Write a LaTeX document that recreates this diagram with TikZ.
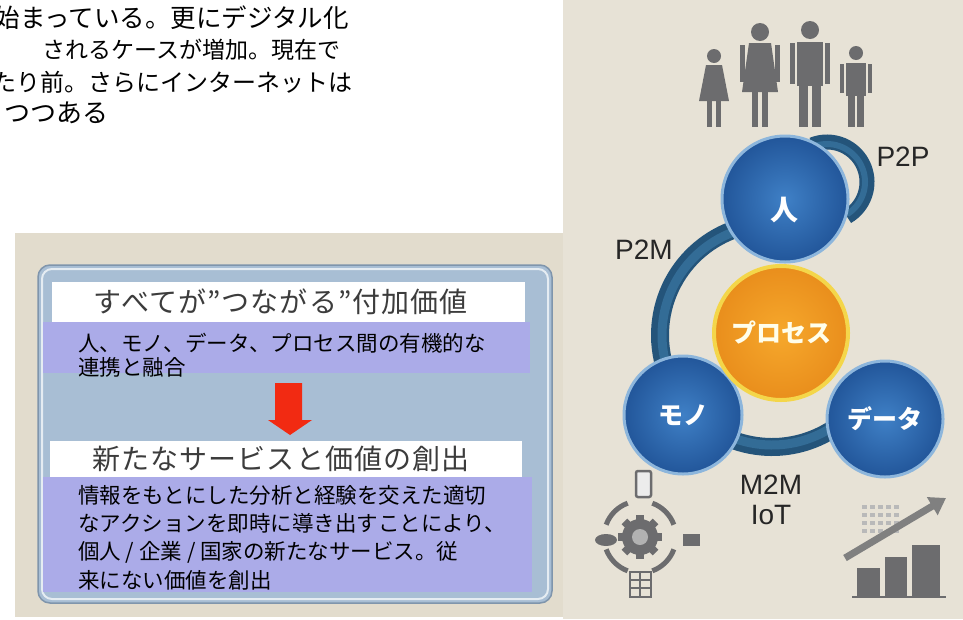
\documentclass[tikz,border=0pt]{standalone}
\usepackage{fontspec}
\setmainfont{Noto Sans CJK JP}
\newfontfamily\lat{Liberation Sans}
\usetikzlibrary{arrows.meta}
\definecolor{photobg}{HTML}{E7E2D6}
\definecolor{leftbg}{HTML}{E2DCCD}
\definecolor{panelfill}{HTML}{A8BED4}
\definecolor{panelrim}{HTML}{7F95AC}
\definecolor{lav}{HTML}{ABABE8}
\definecolor{ringdark}{HTML}{24547A}
\definecolor{ringmid}{HTML}{336C96}
\definecolor{blueIn}{HTML}{3F80C6}
\definecolor{blueOut}{HTML}{22569A}
\definecolor{blueHalo}{HTML}{8DB6DC}
\definecolor{orIn}{HTML}{F6A82C}
\definecolor{orOut}{HTML}{E98E1C}
\definecolor{orRim}{HTML}{F4D64A}
\definecolor{icongrey}{HTML}{6C6C6E}
\definecolor{titlegrey}{HTML}{3C3C3C}
\definecolor{arrowred}{HTML}{F22A12}
\begin{document}
\begin{tikzpicture}[x=1pt,y=-1pt,
  bodytext/.style={anchor=west,inner sep=0pt,font=\fontsize{25}{25}\selectfont},
  boxtext/.style={anchor=west,inner sep=0pt,font=\fontsize{21.5}{21.5}\selectfont},
  titletext/.style={inner sep=0pt,text=titlegrey,font=\fontsize{28}{28}\selectfont\addfontfeature{LetterSpace=4}},
  whitebar/.style={draw=none,fill=white,inner sep=0pt},
  lavbox/.style={draw=none,fill=lav,inner sep=0pt},
  bluecirc/.style={circle,inner sep=0pt,shading=radial,inner color=blueIn,outer color=blueOut,
    draw=blueHalo,line width=3pt,text=white,font=\fontsize{25}{25}\selectfont\bfseries},
  orangecirc/.style={circle,inner sep=0pt,shading=radial,inner color=orIn,outer color=orOut,
    draw=orRim,line width=4pt,text=white!92!yellow,font=\fontsize{25}{25}\selectfont\bfseries},
  linklabel/.style={inner sep=0pt,text=black!85,font=\lat\fontsize{28}{30}\selectfont},
  ringline/.style={draw=ringdark,line width=18pt},
  ringhi/.style={draw=ringmid,line width=9pt},
  figure/.style={fill=icongrey,draw=none},
]
\useasboundingbox (0,0) rectangle (963,619);
\fill[white] (0,0) rectangle (963,619);

% ---------- introductory text (clipped at the left margin) ----------
\begin{scope}
\clip (0,0) rectangle (560,230);
\node[bodytext,anchor=east,font=\fontsize{25.5}{25.5}\selectfont] (l1) at (349,18) {始まっている。更にデジタル化};
\node[bodytext,font=\fontsize{23}{23}\selectfont] (l2) at (42,50) {されるケースが増加。現在で};
\node[bodytext,font=\fontsize{24}{24}\selectfont] (l3) at (-8,82) {たり前。さらにインターネットは};
\node[bodytext,font=\fontsize{26}{26}\selectfont] (l4) at (4,113) {つつある};
\end{scope}

% ---------- left panel ----------
\fill[leftbg] (15,233) rectangle (563,617);
\draw[panelrim,fill=panelfill,line width=1.5pt,rounded corners=12pt] (38,265) rectangle (552,603);
\draw[white!70!panelfill,line width=2pt,rounded corners=10pt] (42,269) rectangle (548,599);

\node[whitebar,minimum width=473pt,minimum height=40pt] (bar1) at (288.5,302) {};
\node[lavbox,minimum width=487pt,minimum height=51pt] (box1) at (286.5,347.5) {};
\node[titletext] (title1) at (281,302) {すべてが”つながる”付加価値};
\node[boxtext] (b1a) at (78,343) {人、モノ、データ、プロセス間の有機的な};
\node[boxtext] (b1b) at (78,367) {連携と融合};

\fill[arrowred] (275,383) -- (302,383) -- (302,420) -- (312,420) -- (290,435)
  -- (268,420) -- (275,420) -- cycle;

\node[whitebar,minimum width=472pt,minimum height=36pt] (bar2) at (286,459) {};
\node[lavbox,minimum width=489pt,minimum height=115pt] (box2) at (287.5,534.5) {};
\node[titletext] (title2) at (281,459) {新たなサービスと価値の創出};
\node[boxtext] (b2a) at (78,495) {情報をもとにした分析と経験を交えた適切};
\node[boxtext] (b2b) at (78,523.5) {なアクションを即時に導き出すことにより、};
\node[boxtext] (b2c) at (78,552) {個人 / 企業 / 国家の新たなサービス。従};
\node[boxtext] (b2d) at (78,580.5) {来にない価値を創出};

% ---------- right panel ----------
\fill[photobg] (563,0) rectangle (963,619);

% family pictogram
% girl
\fill[figure] (714,56) circle[radius=7];
\fill[figure] (706,65) -- (722,65) -- (729,101) -- (699,101) -- cycle;
\fill[figure] (707,100) rectangle (712,127);
\fill[figure] (716,100) rectangle (721,127);
% woman
\fill[figure] (760,32) circle[radius=9];
\fill[figure] (749,43) -- (771,43) -- (778,92) -- (742,92) -- cycle;
\fill[figure] (740,45) rectangle (745,82);
\fill[figure] (775,45) rectangle (780,82);
\fill[figure] (752,91) rectangle (758,127);
\fill[figure] (762,91) rectangle (768,127);
% man
\fill[figure] (810,30) circle[radius=9];
\fill[figure] (797,42) rectangle (823,86);
\fill[figure] (790,43) rectangle (795,84);
\fill[figure] (825,43) rectangle (830,84);
\fill[figure] (799,85) rectangle (808,127);
\fill[figure] (812,85) rectangle (821,127);
% boy
\fill[figure] (856,53) circle[radius=7];
\fill[figure] (846,63) rectangle (866,96);
\fill[figure] (840,64) rectangle (844,93);
\fill[figure] (868,64) rectangle (872,93);
\fill[figure] (848,95) rectangle (855,127);
\fill[figure] (857,95) rectangle (864,127);

% connection ring and person-to-person loop
\coordinate (ringc) at (772,335);
\coordinate (loopc) at (827,182);
\draw[ringline] ([shift={(275:112)}]ringc) arc[start angle=275,end angle=25,radius=112];
\draw[ringhi] ([shift={(275:110)}]ringc) arc[start angle=275,end angle=25,radius=110];
\draw[ringline,line width=15pt] ([shift={(248:40)}]loopc) arc[start angle=248,end angle=420,radius=40];
\draw[ringhi,line width=6pt] ([shift={(250:38)}]loopc) arc[start angle=250,end angle=418,radius=38];

% hubs
\node[bluecirc,minimum size=118pt] (mono) at (683,415) {モノ};
\node[bluecirc,minimum size=116pt] (data) at (885,419) {データ};
\node[bluecirc,minimum size=126pt] (hito) at (785,199) {};
\node[text=white,font=\fontsize{28}{28}\selectfont\bfseries] (hitolabel) at (784,210) {人};
\node[orangecirc,minimum size=134pt] (proc) at (781,333) {プロセス};

% link labels
\node[linklabel] (p2p) at (903,157) {P2P};
\node[linklabel] (p2m) at (644,250) {P2M};
\node[linklabel] (m2m) at (771,485) {M2M};
\node[linklabel] (iot) at (771,515) {IoT};

% things icon: device cycle
\draw[icongrey,line width=2.5pt,fill=white!85!gray,rounded corners=2pt] (636,471) rectangle (651,497);
\foreach \a in {0,45,...,315}
  \fill[icongrey,rotate around={\a:(640,537)}] (636,515) rectangle (644,522);
\fill[icongrey] (640,537) circle[radius=18];
\fill[gray!60] (640,537) circle[radius=8];
\foreach \a in {20,110,200,290}
  \draw[icongrey,line width=5pt] ([shift={(\a:36)}]640,537) arc[start angle=\a,end angle=\a+50,radius=36];
\fill[icongrey] (606,540) ellipse[x radius=11,y radius=6];
\fill[icongrey] (683,534) rectangle (700,546);
\draw[icongrey,line width=2pt] (630,572) rectangle (651,597);
\draw[icongrey,line width=1.5pt] (630,580) -- (651,580) (630,588) -- (651,588) (640,572) -- (640,597);

% data icon: rising chart
\foreach \i in {0,...,4}
  \foreach \j in {0,...,3}
    \fill[gray!55] (862+\i*8,505+\j*8) rectangle (867+\i*8,509+\j*8);
\fill[icongrey] (857,568) rectangle (880,597);
\fill[icongrey] (885,557) rectangle (907,597);
\fill[icongrey] (912,545) rectangle (940,597);
\draw[icongrey,line width=2pt] (852,597) -- (946,597);
\draw[gray,line width=7pt,-{Triangle[length=16pt,width=20pt]}] (845,558) -- (946,498);
\end{tikzpicture}
\end{document}
